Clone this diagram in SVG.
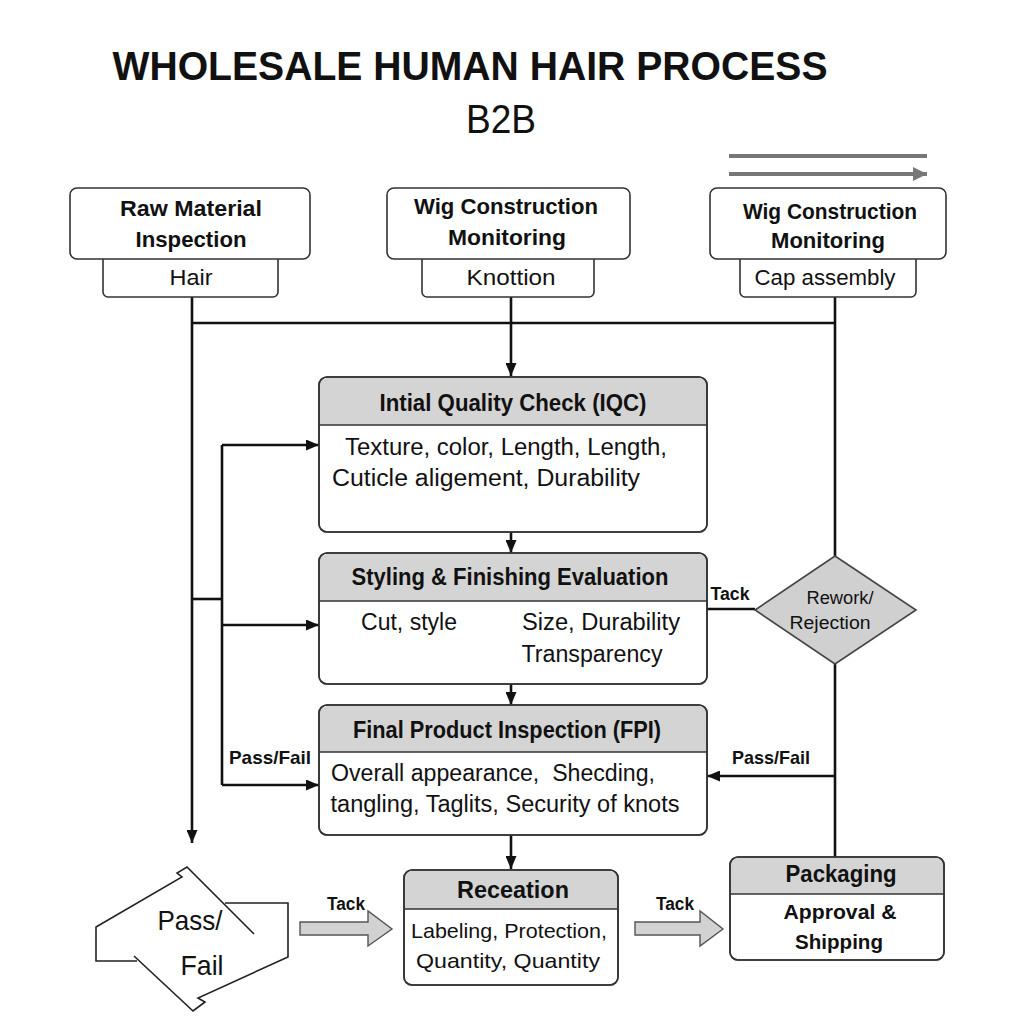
<svg xmlns="http://www.w3.org/2000/svg" width="1024" height="1024" viewBox="0 0 1024 1024">
<defs>
<marker id="ah" markerWidth="13" markerHeight="11" refX="13" refY="5.5" orient="auto" markerUnits="userSpaceOnUse"><path d="M0,0 L13,5.5 L0,11 z" fill="#111"/></marker>
<marker id="ahg" markerWidth="14" markerHeight="14" refX="14" refY="7" orient="auto" markerUnits="userSpaceOnUse"><path d="M0,0 L14,7 L0,14 z" fill="#777"/></marker>
<style>
.t{font-family:"Liberation Sans",Arial,sans-serif;fill:#111;text-anchor:middle}
.b{font-weight:bold}
.box{fill:#fff;stroke:#333;stroke-width:1.6}
.hd{fill:#d4d4d4;stroke:none}
.sep{stroke:#333;stroke-width:1.6}
.ln{fill:none;stroke:#111;stroke-width:2.6}
.blk{fill:#d2d2d2;stroke:#555;stroke-width:1.4}
.pf{fill:none;stroke:#222;stroke-width:1.6}
</style>
</defs>
<rect width="1024" height="1024" fill="#fff"/>
<text class="t b" x="470" y="80" font-size="40" textLength="715" lengthAdjust="spacingAndGlyphs">WHOLESALE HUMAN HAIR PROCESS</text>
<text class="t" x="501" y="133" font-size="40" textLength="70" lengthAdjust="spacingAndGlyphs">B2B</text>

<g id="connectors">
<path class="ln" d="M729,156 H927" stroke="#777" style="stroke:#777;stroke-width:4"/>
<path class="ln" d="M729,174 H927" style="stroke:#777;stroke-width:4" marker-end="url(#ahg)"/>
<path class="ln" d="M192,297 V843" marker-end="url(#ah)"/>
<path class="ln" d="M192,323 H835"/>
<path class="ln" d="M511,297 V376" marker-end="url(#ah)"/>
<path class="ln" d="M835,297 V556"/>
<path class="ln" d="M835,664 V857"/>
<path class="ln" d="M222,445 V785"/>
<path class="ln" d="M192,599 H222"/>
<path class="ln" d="M222,445 H319" marker-end="url(#ah)"/>
<path class="ln" d="M222,625 H319" marker-end="url(#ah)"/>
<path class="ln" d="M222,785 H319" marker-end="url(#ah)"/>
<path class="ln" d="M511,532 V553" marker-end="url(#ah)"/>
<path class="ln" d="M511,684 V705" marker-end="url(#ah)"/>
<path class="ln" d="M511,835 V869" marker-end="url(#ah)"/>
<path class="ln" d="M707,609 H755"/>
<path class="ln" d="M835,776 H707" marker-end="url(#ah)"/>
<polygon class="blk" points="300,922 368,922 368,911 392,929 368,946 368,935 300,935"/>
<polygon class="blk" points="635,922 700,922 700,911 723,929 700,946 700,935 635,935"/>
<text class="t b" x="346" y="910" font-size="18" textLength="38" lengthAdjust="spacingAndGlyphs">Tack</text>
<text class="t b" x="675" y="910" font-size="18" textLength="38" lengthAdjust="spacingAndGlyphs">Tack</text>
<text class="t b" x="730" y="600" font-size="18" textLength="39" lengthAdjust="spacingAndGlyphs">Tack</text>
<text class="t b" x="270" y="764" font-size="19" textLength="82" lengthAdjust="spacingAndGlyphs">Pass/Fail</text>
<text class="t b" x="771" y="764" font-size="19" textLength="78" lengthAdjust="spacingAndGlyphs">Pass/Fail</text>
</g>

<g id="raw-material">
<rect class="box" x="103" y="250" width="175" height="47" rx="5"/>
<rect class="box" x="70" y="188" width="240" height="71" rx="7"/>
<text class="t b" x="191" y="216" font-size="22" textLength="142" lengthAdjust="spacingAndGlyphs">Raw Material</text>
<text class="t b" x="191" y="247" font-size="22" textLength="111" lengthAdjust="spacingAndGlyphs">Inspection</text>
<text class="t" x="191" y="285" font-size="22" textLength="43" lengthAdjust="spacingAndGlyphs">Hair</text>
</g>

<g id="wig-knotting">
<rect class="box" x="422" y="250" width="172" height="47" rx="5"/>
<rect class="box" x="387" y="188" width="243" height="71" rx="7"/>
<text class="t b" x="506" y="214" font-size="22" textLength="184" lengthAdjust="spacingAndGlyphs">Wig Construction</text>
<text class="t b" x="507" y="245" font-size="22" textLength="118" lengthAdjust="spacingAndGlyphs">Monitoring</text>
<text class="t" x="511" y="285" font-size="22" textLength="89" lengthAdjust="spacingAndGlyphs">Knottion</text>
</g>

<g id="wig-cap">
<rect class="box" x="740" y="250" width="176" height="47" rx="5"/>
<rect class="box" x="710" y="188" width="236" height="71" rx="7"/>
<text class="t b" x="830" y="219" font-size="22" textLength="174" lengthAdjust="spacingAndGlyphs">Wig Construction</text>
<text class="t b" x="828" y="248" font-size="22" textLength="114" lengthAdjust="spacingAndGlyphs">Monitoring</text>
<text class="t" x="825" y="285" font-size="22" textLength="141" lengthAdjust="spacingAndGlyphs">Cap assembly</text>
</g>

<g id="iqc">
<rect class="box" x="319" y="377" width="388" height="155" rx="8"/>
<path class="hd" d="M327,378 H699 Q706,378 706,385 V425 H320 V385 Q320,378 327,378 z"/>
<line class="sep" x1="319" y1="425" x2="707" y2="425"/>
<rect class="box" x="319" y="377" width="388" height="155" rx="8" fill="none" style="fill:none"/>
<text class="t b" x="513" y="411" font-size="23" textLength="267" lengthAdjust="spacingAndGlyphs">Intial Quality Check (IQC)</text>
<text class="t" x="506" y="455" font-size="23" textLength="322" lengthAdjust="spacingAndGlyphs">Texture, color, Length, Length,</text>
<text class="t" x="486" y="486" font-size="23" textLength="308" lengthAdjust="spacingAndGlyphs">Cuticle aligement, Durability</text>
</g>

<g id="styling">
<rect class="box" x="319" y="553" width="388" height="131" rx="8"/>
<path class="hd" d="M327,554 H699 Q706,554 706,561 V601 H320 V561 Q320,554 327,554 z"/>
<line class="sep" x1="319" y1="601" x2="707" y2="601"/>
<rect class="box" x="319" y="553" width="388" height="131" rx="8" style="fill:none"/>
<text class="t b" x="510" y="585" font-size="23" textLength="317" lengthAdjust="spacingAndGlyphs">Styling &amp; Finishing Evaluation</text>
<text class="t" x="409" y="630" font-size="23" textLength="96" lengthAdjust="spacingAndGlyphs">Cut, style</text>
<text class="t" x="601" y="630" font-size="23" textLength="158" lengthAdjust="spacingAndGlyphs">Size, Durability</text>
<text class="t" x="592" y="662" font-size="23" textLength="141" lengthAdjust="spacingAndGlyphs">Transparency</text>
</g>

<g id="rework">
<polygon points="835,556 916,610 835,664 755,610" fill="#d0d0d0" stroke="#444" stroke-width="1.6"/>
<text class="t" x="840" y="604" font-size="18" textLength="67" lengthAdjust="spacingAndGlyphs">Rework/</text>
<text class="t" x="830" y="629" font-size="18" textLength="81" lengthAdjust="spacingAndGlyphs">Rejection</text>
</g>

<g id="fpi">
<rect class="box" x="319" y="705" width="388" height="130" rx="8"/>
<path class="hd" d="M327,706 H699 Q706,706 706,713 V752 H320 V713 Q320,706 327,706 z"/>
<line class="sep" x1="319" y1="752" x2="707" y2="752"/>
<rect class="box" x="319" y="705" width="388" height="130" rx="8" style="fill:none"/>
<text class="t b" x="507" y="738" font-size="23" textLength="308" lengthAdjust="spacingAndGlyphs">Final Product Inspection (FPI)</text>
<text class="t" x="493" y="781" font-size="23" textLength="324" lengthAdjust="spacingAndGlyphs" xml:space="preserve">Overall appearance,  Shecding,</text>
<text class="t" x="505" y="812" font-size="23" textLength="349" lengthAdjust="spacingAndGlyphs">tangling, Taglits, Security of knots</text>
</g>

<g id="pass-fail">
<path class="pf" d="M254,934 L187,867 L177,873 L182,877 L96,927 V961 H137"/>
<path class="pf" d="M134,956 L193,1011 L205,1002 L198,998 L288,957 V903 H225"/>
<text class="t" x="190" y="930" font-size="28" textLength="65" lengthAdjust="spacingAndGlyphs">Pass/</text>
<text class="t" x="202" y="975" font-size="28" textLength="43" lengthAdjust="spacingAndGlyphs">Fail</text>
</g>

<g id="receation">
<rect class="box" x="404" y="870" width="214" height="115" rx="8"/>
<path class="hd" d="M412,871 H610 Q617,871 617,878 V909 H405 V878 Q405,871 412,871 z"/>
<line class="sep" x1="404" y1="909" x2="618" y2="909"/>
<rect class="box" x="404" y="870" width="214" height="115" rx="8" style="fill:none"/>
<text class="t b" x="513" y="898" font-size="23" textLength="112" lengthAdjust="spacingAndGlyphs">Receation</text>
<text class="t" x="509" y="938" font-size="21" textLength="196" lengthAdjust="spacingAndGlyphs">Labeling, Protection,</text>
<text class="t" x="508" y="968" font-size="21" textLength="184" lengthAdjust="spacingAndGlyphs">Quantity, Quantity</text>
</g>

<g id="packaging">
<rect class="box" x="730" y="857" width="214" height="103" rx="8"/>
<path class="hd" d="M738,858 H936 Q943,858 943,865 V894 H731 V865 Q731,858 738,858 z"/>
<line class="sep" x1="730" y1="894" x2="944" y2="894"/>
<rect class="box" x="730" y="857" width="214" height="103" rx="8" style="fill:none"/>
<text class="t b" x="841" y="882" font-size="23" textLength="111" lengthAdjust="spacingAndGlyphs">Packaging</text>
<text class="t b" x="840" y="919" font-size="21" textLength="113" lengthAdjust="spacingAndGlyphs">Approval &amp;</text>
<text class="t b" x="839" y="949" font-size="21" textLength="88" lengthAdjust="spacingAndGlyphs">Shipping</text>
</g>
</svg>
